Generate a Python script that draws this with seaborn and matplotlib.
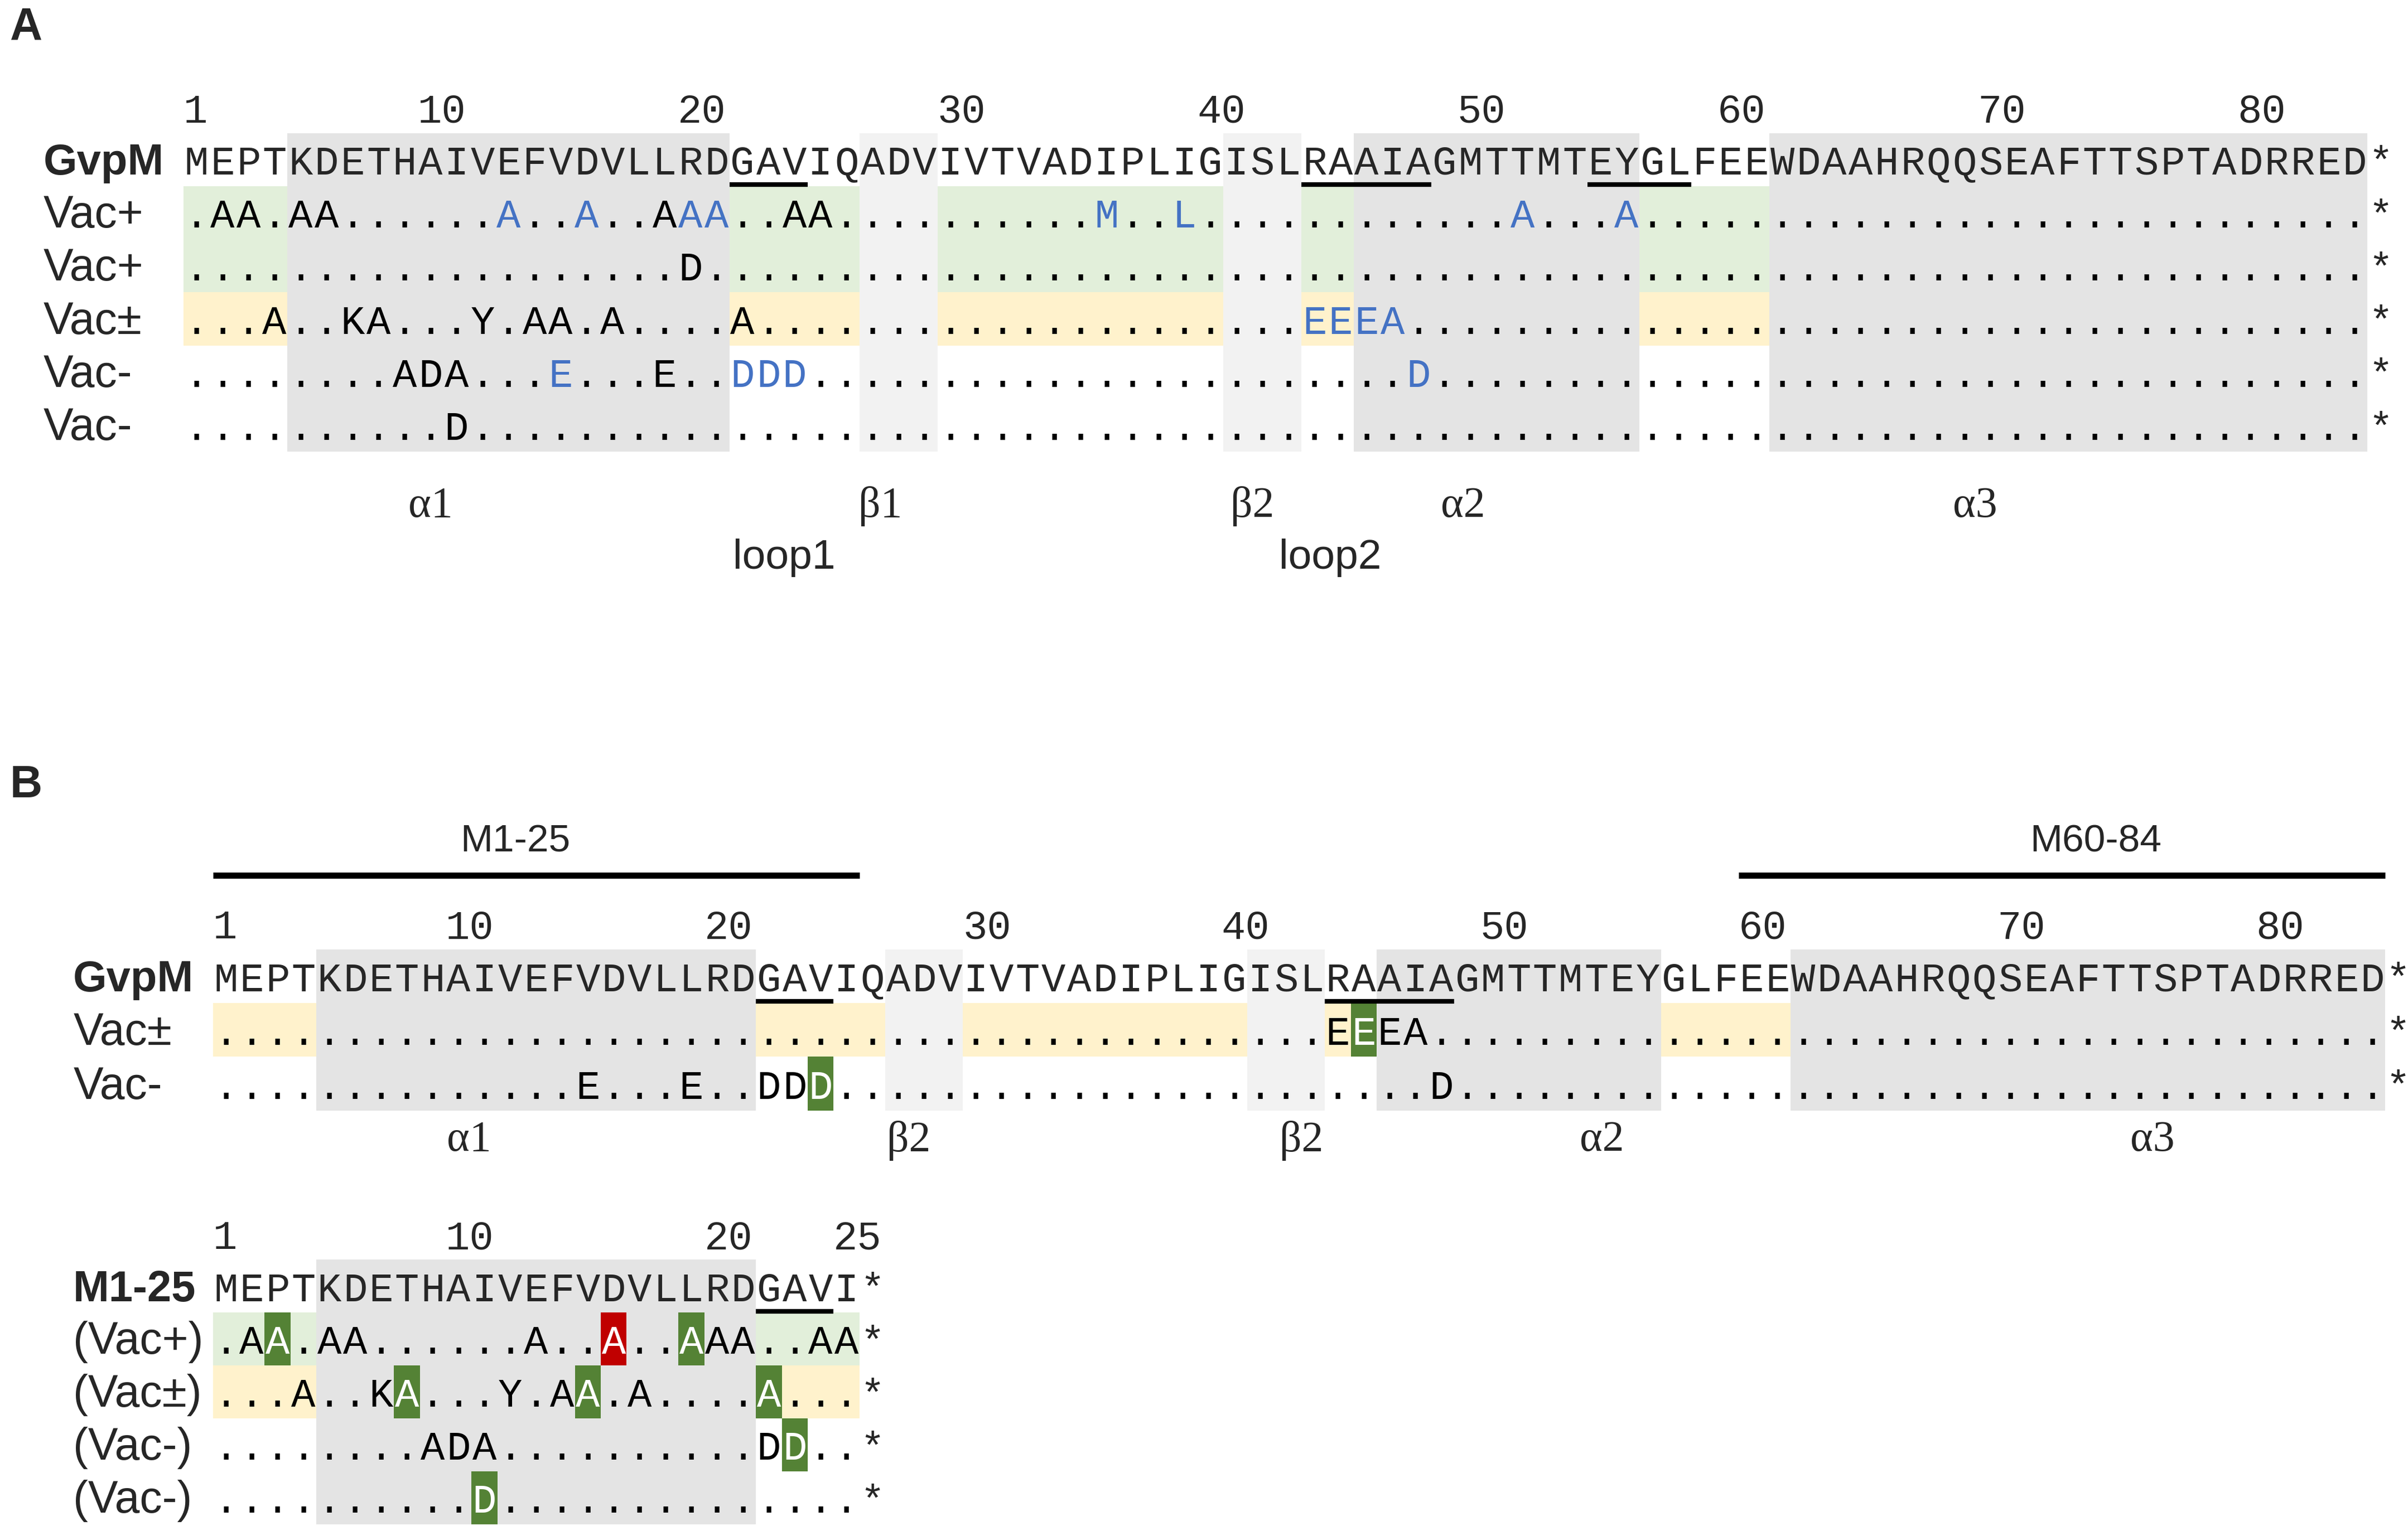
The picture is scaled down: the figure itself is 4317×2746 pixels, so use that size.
import numpy as np
import matplotlib
matplotlib.use("Agg")
import matplotlib.pyplot as plt
from matplotlib.colors import ListedColormap
import seaborn as sns

# GvpM sequence and secondary structure
seq = "MEPTKDETHAIVEFVDVLLRDGAVIQADVIVTVADIPLIGISLRAAIAGMTTMTEYGLFEEWDAAHRQQSEAFTTSPTADRRED"
helices = [(5, 21), (46, 56), (62, 84)]
strands = [(27, 29), (41, 43)]
tick_pos = [1, 10, 20, 30, 40, 50, 60, 70, 80]

# panel A: variants as "position+residue"
a_names = ["Vac+", "Vac+", "Vac±", "Vac-", "Vac-"]
a_muts = [
    "2A 3A 5A 6A 13A 16A 19A 20A 21A 24A 25A 36M 39L 52A 56A",
    "20D",
    "4A 7K 8A 12Y 14A 15A 17A 22A 44E 45E 46E 47A",
    "9A 10D 11A 15E 19E 22D 23D 24D 48D",
    "11D",
]
a_blue = ["13 16 20 21 36 39 52 56", "", "44 45 46 47", "15 22 23 24 48", ""]
a_underline = [(22, 24), (44, 48), (55, 58)]
a_ss_names = ["α1", "β1", "β2", "α2", "α3"]
a_ss_pos = [10.0, 27.3, 41.6, 49.7, 69.4]
a_loop_names = ["loop1", "loop2"]
a_loop_pos = [23.6, 44.6]

# panel B
b_names = ["Vac±", "Vac-"]
b_muts = ["44E 45E 46E 47A", "15E 19E 22D 23D 24D 48D"]
b_green = ["45", "24"]
b_underline = [(22, 24), (44, 48)]
b_ss_names = ["α1", "β2", "β2", "α2", "α3"]
b_ss_pos = [10.4, 27.4, 42.6, 54.2, 75.5]
fragments = ["M1-25", "M60-84"]
frag_start = [1, 60]
frag_end = [25, 84]
frag_label_pos = [12.2, 73.3]

# M1-25 fragment
m_len = 25
m_ticks = [1, 10, 20, 25]
m_names = ["(Vac+)", "(Vac±)", "(Vac-)", "(Vac-)"]
m_muts = [
    "2A 3A 5A 6A 13A 16A 19A 20A 21A 24A 25A",
    "4A 7K 8A 12Y 14A 15A 17A 22A",
    "9A 10D 11A 22D 23D",
    "11D",
]
m_green = ["3 19", "8 15 22", "23", "11"]
m_red = ["16", "", "", ""]
m_underline = [(22, 24)]

colors = ["#ffffff", "#e4e4e4", "#f2f2f2", "#e2efda", "#fff2cc", "#548235", "#c00000"]
cmap = ListedColormap(colors)
BLUE = "#4472c4"
MONO, SANS, SERIF = "Liberation Mono", "Liberation Sans", "Liberation Serif"

sns.set_style("white")
plt.rcParams["font.family"] = ["Liberation Sans", "DejaVu Sans"]


def parse(s):
    return {int(t[:-1]): t[-1] for t in s.split()}


def nums(s):
    return [int(t) for t in s.split()]


def in_any(p, spans):
    return any(a <= p <= b for a, b in spans)


def shade_matrix(names, length, green=None, red=None):
    rows = ["ref"] + names
    mat = np.zeros((len(rows), length))
    for r, name in enumerate(rows):
        for p in range(1, length + 1):
            if in_any(p, helices):
                v = 1
            elif in_any(p, strands):
                v = 2
            elif "+" in name:
                v = 3
            elif "±" in name:
                v = 4
            else:
                v = 0
            mat[r, p - 1] = v
    for r in range(len(names)):
        for p in nums(green[r]) if green else []:
            mat[r + 1, p - 1] = 5
        for p in nums(red[r]) if red else []:
            mat[r + 1, p - 1] = 6
    return mat


fig = plt.figure(figsize=(4317 / 200, 2746 / 200), dpi=200)
W, H = 1568, 997.5  # layout measured on a 1568 px wide copy


def block(x0, dx, y0, dy, ref_name, ref_seq, names, muts, ticks, underline,
          blue=None, green=None, red=None):
    ax = fig.add_axes([0, 0, 1, 1])
    n = len(ref_seq)
    mat = shade_matrix(names, n, green, red)
    sns.heatmap(mat, cmap=cmap, vmin=-0.5, vmax=6.5, cbar=False,
                xticklabels=False, yticklabels=False, ax=ax)
    ax.set_xlim(-x0 / dx, (W - x0) / dx)
    ax.set_ylim((H - y0) / dy, -y0 / dy)
    ax.axis("off")

    base = 0.78
    ax.text(-5.4, base, ref_name, fontsize=28, fontweight="bold", family=SANS)
    for p, c in enumerate(ref_seq, 1):
        ax.text(p - 0.5, base, c, fontsize=26, family=MONO, ha="center")
    ax.text(n + 0.5, base, "*", fontsize=26, family=MONO, ha="center")
    for t in ticks:
        ax.text(t - 1, -0.2, str(t), fontsize=26, family=MONO, ha="left")
    for a, b in underline:
        ax.plot([a - 1, b], [0.97, 0.97], color="black", lw=3, solid_capstyle="butt")

    for r, name in enumerate(names, 1):
        y = r + base
        ax.text(-5.4, y, name, fontsize=29, family=SANS)
        mut = parse(muts[r - 1])
        bl = nums(blue[r - 1]) if blue else []
        hi = (nums(green[r - 1]) if green else []) + (nums(red[r - 1]) if red else [])
        for p in range(1, n + 1):
            c = mut.get(p, ".")
            col = "white" if p in hi else (BLUE if p in bl else "black")
            ax.text(p - 0.5, y, c, fontsize=26, family=MONO, ha="center", color=col)
        ax.text(n + 0.5, y, "*", fontsize=26, family=MONO, ha="center")
    return ax


# panel A
axA = block(119.5, 16.93, 86.7, 34.6, "GvpM", seq, a_names, a_muts, tick_pos,
            a_underline, blue=a_blue)
for lab, x in zip(a_ss_names, a_ss_pos):
    axA.text(x - 0.5, 7.03, lab, fontsize=28, family=SERIF, ha="center", va="center")
for lab, x in zip(a_loop_names, a_loop_pos):
    axA.text(x - 0.5, 8.0, lab, fontsize=27, family=SANS, ha="center", va="center")

# panel B, full length
axB = block(138.6, 16.84, 618.5, 35.0, "GvpM", seq, b_names, b_muts, tick_pos,
            b_underline, green=b_green)
for lab, x in zip(b_ss_names, b_ss_pos):
    axB.text(x - 0.5, 3.56, lab, fontsize=28, family=SERIF, ha="center", va="center")
for lab, s, e, x in zip(fragments, frag_start, frag_end, frag_label_pos):
    axB.plot([s - 1, e], [-1.38, -1.38], color="black", lw=4, solid_capstyle="butt")
    axB.text(x - 0.5, -2.0, lab, fontsize=25, family=SANS, ha="center", va="center")

# panel B, M1-25 fragment
axM = block(138.6, 16.84, 820.75, 34.5, "M1-25", seq[:m_len], m_names, m_muts, m_ticks,
            m_underline, green=m_green, red=m_red)

fig.text(17 / W, 1 - 18 / H, "A", fontsize=29, fontweight="bold", ha="center", va="center")
fig.text(17 / W, 1 - 512 / H, "B", fontsize=29, fontweight="bold", ha="center", va="center")

fig.savefig("out.png", dpi=200, facecolor="white")
